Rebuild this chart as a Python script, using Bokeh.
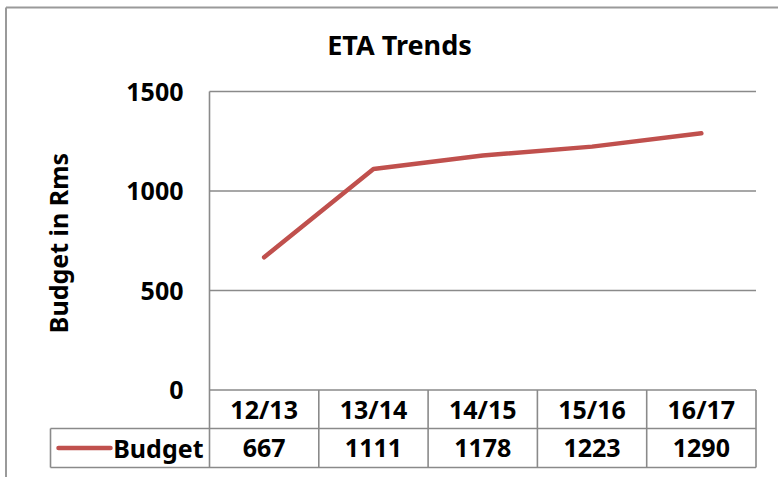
import math
from bokeh.plotting import figure
from bokeh.models import Range1d
from bokeh.embed import file_html
from bokeh.resources import INLINE
from bokeh.core.properties import value

# ---------------- data ----------------
chart_title = "ETA Trends"
y_label = "Budget in Rms"
series_name = "Budget"
years = ["12/13", "13/14", "14/15", "15/16", "16/17"]
budget = [667, 1111, 1178, 1223, 1290]
y_ticks = [0, 500, 1000, 1500]

# ---------------- layout (window pixels) ----------------
W, H = 778, 477
OX, OY = 0, 0
PL, PR = 209.0, 755.5      # plot area left / right
PT, PB = 91.0, 389.5       # y of top tick / y of zero
ROW1, ROW2 = 428.0, 467.0  # table row separator / table bottom
LEG_L = 50.0               # legend cell left edge
BORDER_X, BORDER_Y = 5.5, 7.0

n = len(years)
cw = (PR - PL) / n
ymax = y_ticks[-1]


def xd(px):
    return (px - PL) / cw - 0.5


def yd(py):
    return ymax - (py - PT) * ymax / (PB - PT)


FONT = value("Noto Sans")
GRID = "#8a8a8a"
RED = "#C0504D"

p = figure(width=W, height=H, output_backend="svg", toolbar_location=None,
           x_range=Range1d(xd(OX), xd(OX + W)), y_range=Range1d(yd(OY + H), yd(OY)),
           min_border=0, tools="")
p.axis.visible = False
p.grid.visible = False
p.outline_line_color = None
p.background_fill_color = "white"
p.border_fill_color = "white"

# outer chart border (left + top)
p.segment(x0=[xd(BORDER_X), xd(BORDER_X)], y0=[yd(BORDER_Y), yd(BORDER_Y)],
          x1=[xd(BORDER_X), xd(OX + W)], y1=[yd(OY + H), yd(BORDER_Y)],
          line_color="#9a9a9a", line_width=2)

# horizontal gridlines
p.segment(x0=[-0.5] * len(y_ticks), y0=y_ticks, x1=[n - 0.5] * len(y_ticks), y1=y_ticks,
          line_color=GRID, line_width=1.6)

# plot-area left edge down through table
p.segment(x0=[-0.5], y0=[ymax], x1=[-0.5], y1=[yd(ROW2)], line_color=GRID, line_width=1.6)

# table: vertical separators
bx = [i + 0.5 for i in range(n)]
p.segment(x0=bx, y0=[0] * n, x1=bx, y1=[yd(ROW2)] * n, line_color=GRID, line_width=1.6)
p.segment(x0=[xd(LEG_L)], y0=[yd(ROW1)], x1=[xd(LEG_L)], y1=[yd(ROW2)],
          line_color=GRID, line_width=1.6)
# table: horizontal lines
p.segment(x0=[xd(LEG_L)] * 2, y0=[yd(ROW1), yd(ROW2)], x1=[n - 0.5] * 2,
          y1=[yd(ROW1), yd(ROW2)], line_color=GRID, line_width=1.6)

# data line
xs = list(range(n))
p.line(xs, budget, line_color=RED, line_width=4.5, line_cap="round", line_join="round")

# legend key in table
row2_mid = yd((ROW1 + ROW2) / 2)
row1_mid = yd((PB + ROW1) / 2)
p.line([xd(58), xd(110)], [row2_mid, row2_mid], line_color=RED, line_width=4.5,
       line_cap="round")
p.text(x=[xd(203)], y=[row2_mid], text=[series_name], text_font=FONT,
       text_font_style="bold", text_font_size="25px", text_align="right",
       text_baseline="middle", text_color="black")

# table texts
p.text(x=xs, y=[row1_mid] * n, text=years, text_font=FONT, text_font_style="bold",
       text_font_size="25px", text_align="center", text_baseline="middle", text_color="black")
p.text(x=xs, y=[row2_mid] * n, text=[str(v) for v in budget], text_font=FONT,
       text_font_style="bold", text_font_size="25px", text_align="center",
       text_baseline="middle", text_color="black")

# y tick labels
p.text(x=[xd(183)] * len(y_ticks), y=y_ticks, text=[str(t) for t in y_ticks],
       text_font=FONT, text_font_style="bold", text_font_size="25px",
       text_align="right", text_baseline="middle", text_color="black")

# y axis label
p.text(x=[xd(57)], y=[yd(242.5)], text=[y_label], angle=math.pi / 2, text_font=FONT,
       text_font_style="bold", text_font_size="25px", text_align="center",
       text_baseline="middle", text_color="black")

# title
p.text(x=[xd(399)], y=[yd(44)], text=[chart_title], text_font=FONT,
       text_font_style="bold", text_font_size="27px", text_align="center",
       text_baseline="middle", text_color="black")

open("out.html", "w").write(file_html(p, INLINE))
